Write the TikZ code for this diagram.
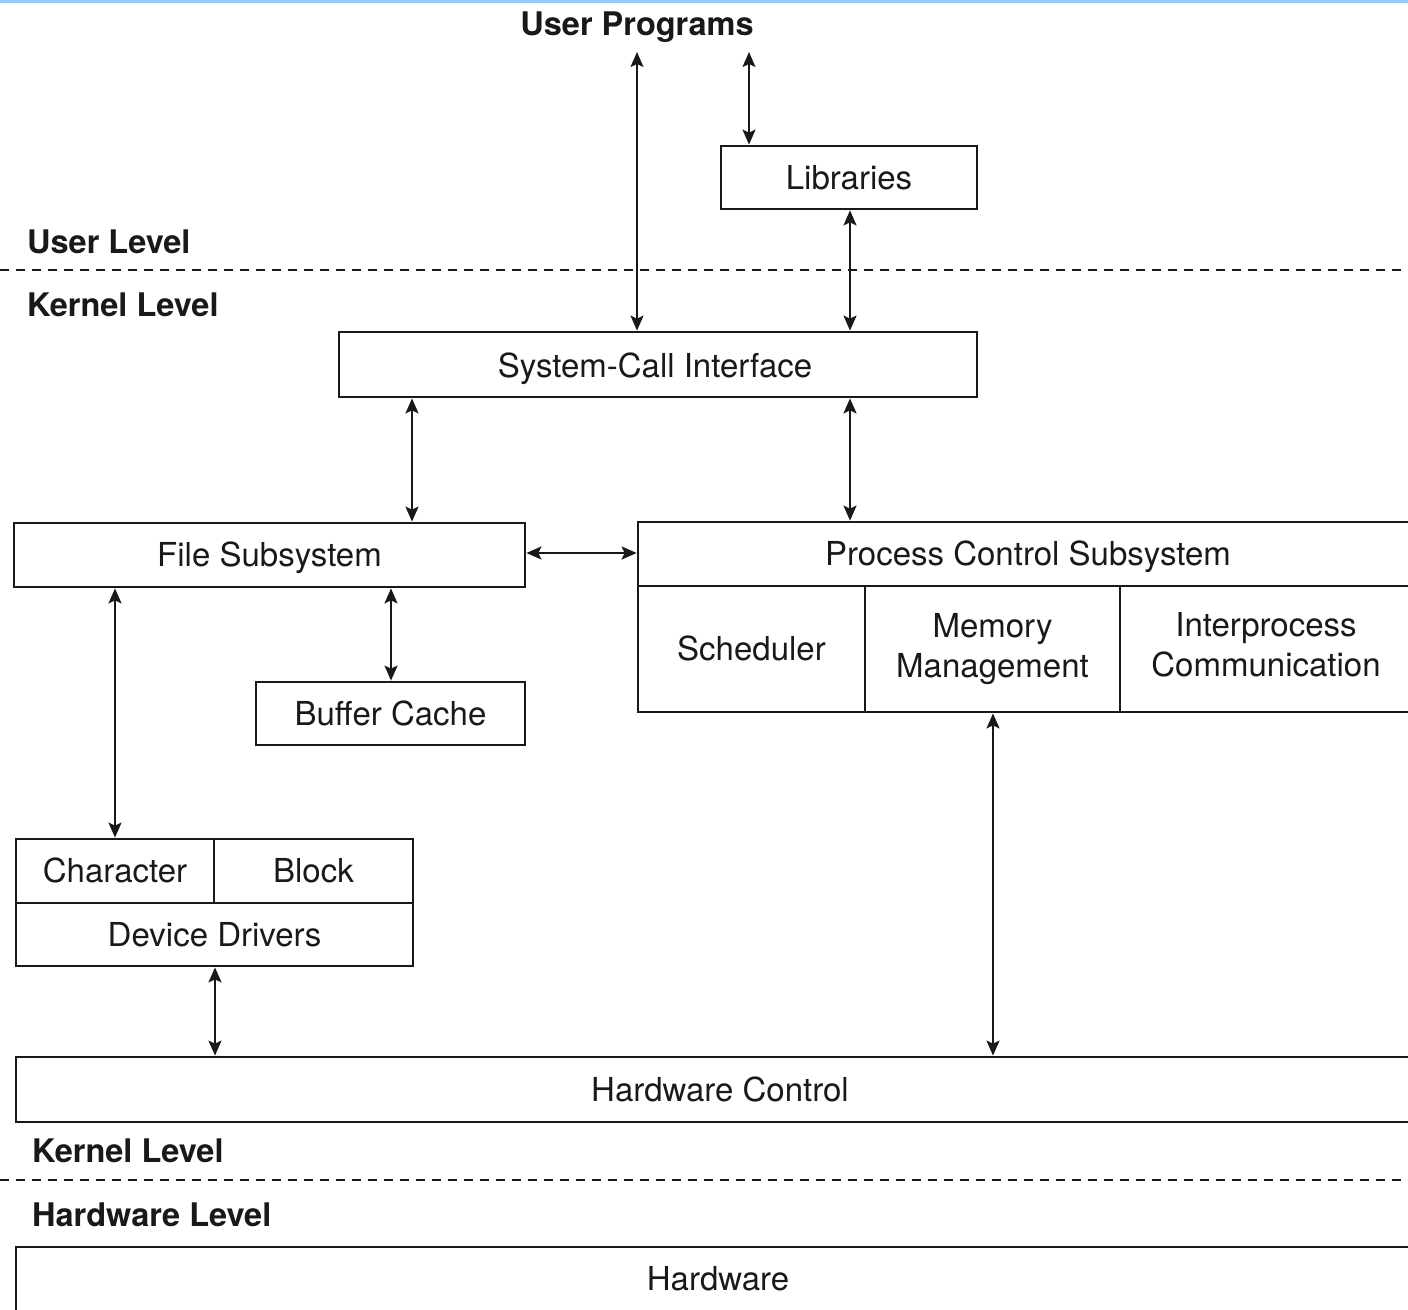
\documentclass[tikz,border=0pt]{standalone}
\usepackage{fontspec}
\setmainfont{TeX Gyre Heros}
\usetikzlibrary{arrows.meta}
\definecolor{bandblue}{RGB}{150,200,250}
\definecolor{ink}{RGB}{25,25,25}
\begin{document}
\begin{tikzpicture}[x=1pt,y=-1pt, color=ink,
  box/.style={draw, line width=2.8pt, rectangle, inner sep=0pt,
    font=\fontsize{33}{40}\selectfont, align=center},
  one/.style={text height=23.8pt, text depth=0pt},
  lvl/.style={font=\bfseries\fontsize{32.5}{36}\selectfont, anchor=west, inner sep=0pt,
    text height=23.4pt, text depth=0pt},
  conn/.style={line width=1.8pt,
    {Stealth[length=15pt,width=13pt,inset=3pt]}-{Stealth[length=15pt,width=13pt,inset=3pt]}},
  sep/.style={line width=2.6pt, dash pattern=on 9pt off 7pt}]
\useasboundingbox (0,0) rectangle (1408,1309);
\clip (0,0) rectangle (1408,1309);
\fill[bandblue] (0,0) rectangle (1408,2.5);

% level separators and their labels
\draw[sep] (0,270) -- (1408,270);
\draw[sep] (0,1180) -- (1408,1180);
\node[lvl] (ul)  at (27,242)  {User Level};
\node[lvl] (kl1) at (27,305)  {Kernel Level};
\node[lvl] (kl2) at (32,1151) {Kernel Level};
\node[lvl] (hl)  at (32,1215) {Hardware Level};

% user side
\node[lvl, anchor=center] (up) at (637,24) {User Programs};
\coordinate (upA) at (637,52);
\coordinate (upB) at (749,52);
\node[box, one, minimum width=256pt, minimum height=63pt] (lib) at (849,177.5) {Libraries};

% kernel boxes
\node[box, minimum width=638pt, minimum height=65pt] (sci) at (658,364.5) {};
\node[one, font=\fontsize{33}{40}\selectfont, inner sep=0pt] at (655,366) {System-Call Interface};
\node[box, one, minimum width=511pt, minimum height=64pt] (fs) at (269.5,555) {File Subsystem};
\node[box, one, minimum width=269pt, minimum height=63pt] (bc) at (390.5,713.5) {Buffer Cache};

\node[box, one, minimum width=780pt, minimum height=64pt] (pcs) at (1028,554) {Process Control Subsystem};
\node[box, one, minimum width=227pt, minimum height=126pt] (sch) at (751.5,649) {Scheduler};
\node[box, minimum width=255pt, minimum height=126pt] (mm) at (992.5,649) {Memory\\Management};
\node[box, minimum width=298pt, minimum height=126pt] (ipc) at (1269,649) {};
\node[font=\fontsize{33}{40}\selectfont, align=center, inner sep=0pt] at (1266,645) {Interprocess\\Communication};

\node[box, one, minimum width=198pt, minimum height=64pt] (chr) at (115,871) {Character};
\node[box, one, minimum width=199pt, minimum height=64pt] (blk) at (313.5,871) {Block};
\node[box, one, minimum width=397pt, minimum height=63pt] (dd) at (214.5,934.5) {Device Drivers};

\node[box, one, minimum width=1408pt, minimum height=65pt] (hc) at (720,1089.5) {Hardware Control};
\node[box, one, minimum width=1404pt, minimum height=64pt] (hw) at (718,1279) {Hardware};

% connectors
\draw[conn] (upA) -- (sci.north -| upA);
\draw[conn] (upB) -- (lib.north -| upB);
\draw[conn] (lib.south -| 850,0) -- (sci.north -| 850,0);
\draw[conn] (sci.south -| 412,0) -- (fs.north -| 412,0);
\draw[conn] (sci.south -| 850,0) -- (pcs.north -| 850,0);
\draw[conn] (fs.east |- 0,553) -- (pcs.west |- 0,553);
\draw[conn] (fs.south -| 391,0) -- (bc.north -| 391,0);
\draw[conn] (fs.south -| 115,0) -- (chr.north -| 115,0);
\draw[conn] (dd.south -| 215,0) -- (hc.north -| 215,0);
\draw[conn] (mm.south -| 993,0) -- (hc.north -| 993,0);
\end{tikzpicture}
\end{document}
